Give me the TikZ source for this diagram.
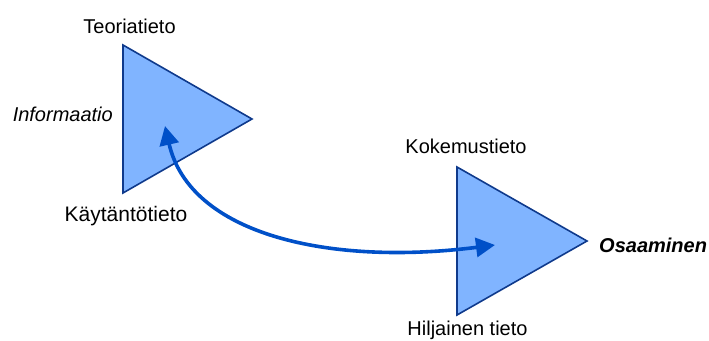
\documentclass[tikz,border=0pt]{standalone}
\usepackage{fontspec}
\setmainfont{Liberation Sans}
\usetikzlibrary{arrows.meta}
\definecolor{trifill}{HTML}{80B4FF}
\definecolor{tridraw}{HTML}{0F3A8C}
\definecolor{arrowblue}{HTML}{0050C8}
\begin{document}
\begin{tikzpicture}[x=1pt,y=-1pt,
  tri/.style={fill=trifill,draw=tridraw,line width=1.6pt,line join=miter},
  lbl/.style={anchor=base,inner sep=0pt,font=\fontsize{20}{24}\selectfont},
  link/.style={draw=arrowblue,line width=3.6pt,
    {Triangle[length=19pt,width=19pt]}-{Triangle[length=19pt,width=19pt]}}]
\useasboundingbox (0,0) rectangle (709,340);
% left triangle
\draw[tri] (123,45) -- (252,119) -- (123,193) -- cycle;
% right triangle
\draw[tri] (457,167) -- (587,241) -- (457,315) -- cycle;
% labels
\node[lbl] (teoria) at (129.5,33) {Teoriatieto};
\node[lbl,anchor=base east,font=\fontsize{20}{24}\selectfont\itshape] (info) at (113,121) {Informaatio};
\node[lbl,font=\fontsize{21}{25}\selectfont] (kaytanto) at (126,221) {Käytäntötieto};
\node[lbl] (kokemus) at (466,153) {Kokemustieto};
\node[lbl,anchor=base west,font=\fontsize{20}{24}\selectfont\bfseries\itshape] (osaaminen) at (599,252) {Osaaminen};
\node[lbl] (hiljainen) at (467.5,335) {Hiljainen tieto};
% connector between the two triangles
\coordinate (src) at (165,126);
\coordinate (dst) at (495,245);
\draw[link] (src) .. controls (190,235) and (330,266) .. (dst);
\end{tikzpicture}
\end{document}
